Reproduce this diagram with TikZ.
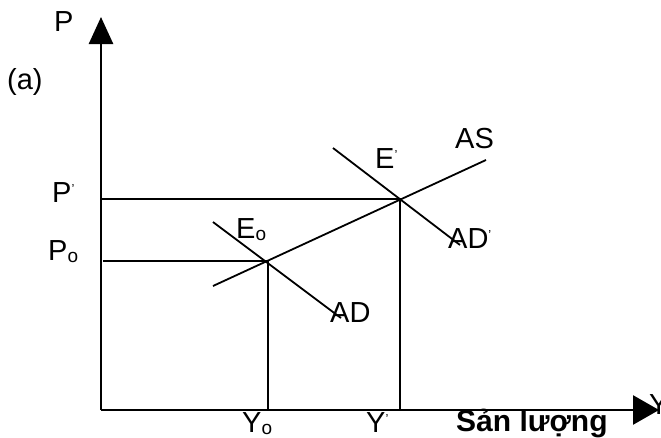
\documentclass[tikz,border=0pt]{standalone}
\usepackage{fontspec}
\setmainfont{Liberation Sans}
\usetikzlibrary{arrows.meta,positioning}
\tikzset{
    axisline/.style={line width=2.6pt},
    curveline/.style={line width=1.8pt},
    guideline/.style={line width=1.6pt},
    lbl/.style={font=\fontsize{29}{29}\selectfont, inner sep=0pt, anchor=base west}
}
\newcommand{\sbo}{\raisebox{-2pt}{\fontsize{19}{19}\selectfont o}}
\newcommand{\prm}{\raisebox{9pt}{\fontsize{13}{13}\selectfont ’}}

\begin{document}
\begin{tikzpicture}[x=1pt, y=-1pt]
\useasboundingbox (0,0) rectangle (661,437);
% axes
\coordinate (O) at (101,410);
\coordinate (ytip) at (101,17);
\coordinate (xtip) at (659,410);
\draw[axisline, -{Triangle[length=27pt,width=24pt]}] (O) -- (ytip);
\draw[axisline, -{Triangle[length=26pt,width=29pt]}] (O) -- (xtip);
% equilibrium points
\coordinate (E0) at (268,261);
\coordinate (E1) at (400,199);
\coordinate (p0) at (103,261);
\coordinate (p1) at (101,199);
\coordinate (y0) at (268,410);
\coordinate (y1) at (400,410);
\draw[guideline] (p1) -- (E1) -- (y1);
\draw[guideline] (p0) -- (E0) -- (y0);
% curves
\coordinate (as1) at (213,286);
\coordinate (as2) at (486,160);
\coordinate (ad1) at (213,222);
\coordinate (ad2) at (341,318);
\coordinate (adp1) at (333,148);
\coordinate (adp2) at (460,245);
\draw[curveline] (as1) -- (as2);
\draw[curveline] (ad1) -- (ad2);
\draw[curveline] (adp1) -- (adp2);
% labels
\node[lbl] (lP) at (54,31) {P};
\node[lbl] (la) at (7,89) {(a)};
\node[lbl] (lP1) at (52,202) {P\prm};
\node[lbl] (lP0) at (48,260) {P\sbo};
\node[lbl] (lE0) at (236,238) {E\sbo};
\node[lbl] (lE1) at (375,168) {E\prm};
\node[lbl] (lAS) at (455,148) {AS};
\node[lbl] (lAD1) at (448,248) {AD\prm};
\node[lbl] (lAD) at (330,322) {AD};
\node[lbl] (lY0) at (242,432) {Y\sbo};
\node[lbl] (lY1) at (366,432) {Y\prm};
\node[lbl, font=\fontsize{30}{30}\selectfont\bfseries] (lout) at (456,431) {Sản lượng};
\node[lbl] (lY) at (649,414) {Y};
\end{tikzpicture}
\end{document}
